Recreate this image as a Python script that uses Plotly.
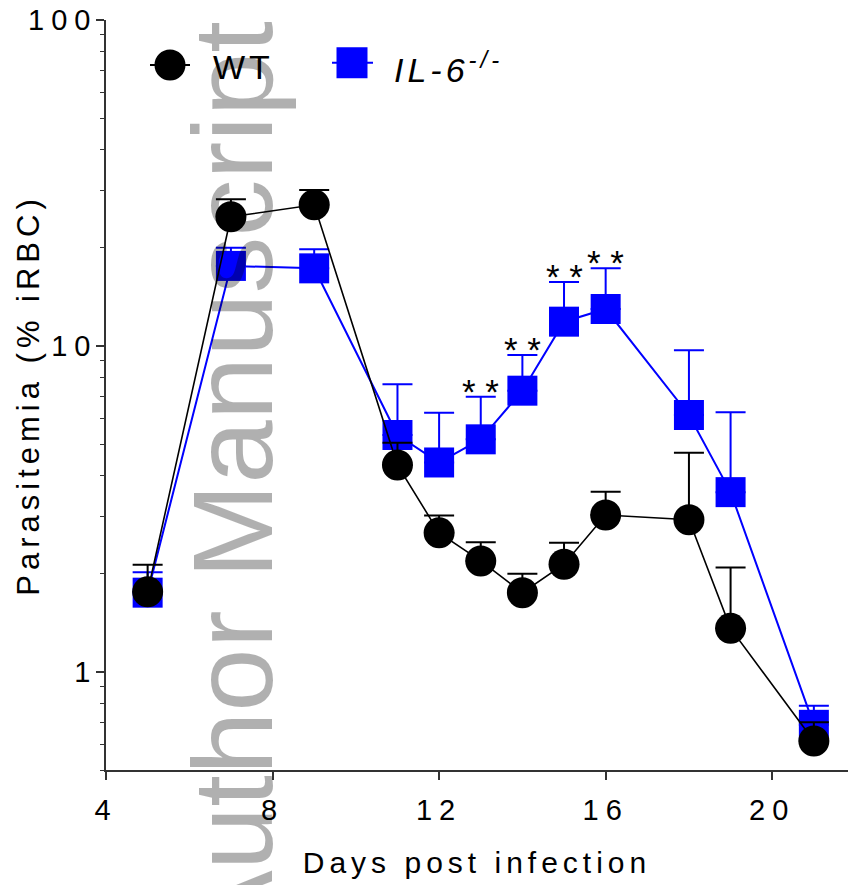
import plotly.graph_objects as go
import numpy as np

# ---------------- data ----------------
days = [5, 7, 9, 11, 12, 13, 14, 15, 16, 18, 19, 21]
wt_mean = [1.76, 24.9, 27.1, 4.31, 2.67, 2.19, 1.75, 2.14, 3.03, 2.93, 1.36, 0.614]
wt_upper = [2.13, 28.2, 30.1, 5.05, 3.02, 2.50, 2.00, 2.49, 3.57, 4.70, 2.09, 0.700]
il6_mean = [1.75, 17.6, 17.3, 5.33, 4.39, 5.17, 7.29, 11.87, 12.98, 6.14, 3.56, 0.688]
il6_upper = [2.02, 20.0, 19.8, 7.63, 6.24, 6.99, 9.38, 15.7, 17.3, 9.70, 6.26, 0.787]
sig_days = [13, 14, 15, 16]
sig_label = "* *"
x_ticks = [4, 8, 12, 16, 20]
y_ticks = [1, 10, 100]
y_minor = [0.5, 0.6, 0.7, 0.8, 0.9, 2, 3, 4, 5, 6, 7, 8, 9,
           20, 30, 40, 50, 60, 70, 80, 90]
series_names = ["WT", "IL-6"]

FONT = "Liberation Sans, Arial, sans-serif"
BLUE = "#0000ff"

fig = go.Figure()

fig.add_trace(go.Scatter(
    x=days, y=il6_mean, mode="lines+markers", name=series_names[1],
    line=dict(color=BLUE, width=2),
    marker=dict(symbol="square", size=30, color=BLUE),
    error_y=dict(type="data", symmetric=False,
                 array=[u - m for u, m in zip(il6_upper, il6_mean)],
                 arrayminus=[0] * len(days),
                 color=BLUE, thickness=2, width=15),
    showlegend=False,
))
fig.add_trace(go.Scatter(
    x=days, y=wt_mean, mode="lines+markers", name=series_names[0],
    line=dict(color="black", width=1.6),
    marker=dict(symbol="circle", size=31, color="black"),
    error_y=dict(type="data", symmetric=False,
                 array=[u - m for u, m in zip(wt_upper, wt_mean)],
                 arrayminus=[0] * len(days),
                 color="black", thickness=2, width=15),
    showlegend=False,
))

annotations = []
for d in sig_days:
    top = il6_upper[days.index(d)]
    annotations.append(dict(x=d, y=np.log10(top), xref="x", yref="y",
                            text=sig_label, showarrow=False,
                            yanchor="bottom", yshift=-16,
                            font=dict(family=FONT, size=35, color="black")))

# legend (drawn manually so markers match plot size)
annotations.append(dict(x=0.147, y=0.937, xref="paper", yref="paper",
                        text="WT", showarrow=False, xanchor="left", yanchor="middle",
                        font=dict(family=FONT, size=34, color="black")))
annotations.append(dict(x=0.404, y=0.937, xref="paper", yref="paper",
                        text="<i>IL-6<sup>-/-</sup></i>", showarrow=False,
                        xanchor="left", yanchor="middle",
                        font=dict(family=FONT, size=34, color="black")))

# watermark
annotations.append(dict(x=0.170, y=0.3813, xref="paper", yref="paper",
                        text="Author Manuscript", showarrow=False, textangle=-90,
                        xanchor="center", yanchor="middle",
                        font=dict(family=FONT, size=114, color="rgba(0,0,0,0.31)")))

leg_y = 0.94
shapes = [
    dict(type="line", xref="paper", yref="paper", x0=(150 - 106) / 742, x1=(190 - 106) / 742,
         y0=leg_y, y1=leg_y, line=dict(color="black", width=2), layer="above"),
    dict(type="circle", xref="paper", yref="paper", xsizemode="pixel", ysizemode="pixel",
         xanchor=(170 - 106) / 742, yanchor=leg_y, x0=-15.5, x1=15.5, y0=-15.5, y1=15.5,
         fillcolor="black", line=dict(width=0), layer="above"),
    dict(type="line", xref="paper", yref="paper", x0=(332 - 106) / 742, x1=(373 - 106) / 742,
         y0=leg_y + 0.003, y1=leg_y + 0.003, line=dict(color=BLUE, width=2), layer="above"),
    dict(type="rect", xref="paper", yref="paper", xsizemode="pixel", ysizemode="pixel",
         xanchor=(352 - 106) / 742, yanchor=leg_y + 0.003, x0=-15.5, x1=15.5, y0=-15.5, y1=15.5,
         fillcolor=BLUE, line=dict(width=0), layer="above"),
]

fig.update_layout(
    width=848, height=885,
    margin=dict(l=106, r=0, t=20, b=115),
    paper_bgcolor="white", plot_bgcolor="white",
    font=dict(family=FONT, color="black"),
    annotations=annotations, shapes=shapes,
    showlegend=False,
    xaxis=dict(range=[4, 21.82], tickvals=x_ticks, ticks="outside", ticklen=8,
               tickwidth=1.5, tickcolor="#333", showline=True, linecolor="#333",
               linewidth=1.5, showgrid=False, zeroline=False,
               tickfont=dict(family=FONT, size=29, color="black"),
               ticklabelstandoff=5,
               title=dict(text="Days post infection", standoff=27,
                          font=dict(family=FONT, size=30, color="black"))),
    yaxis=dict(type="log", range=[np.log10(0.5), 2], tickvals=y_ticks,
               ticktext=[str(v) for v in y_ticks],
               ticks="outside", ticklen=8, tickwidth=1.5, tickcolor="#333",
               minor=dict(tickvals=y_minor, ticks="outside", ticklen=4,
                          tickwidth=1.2, tickcolor="#333", showgrid=False),
               showline=True, linecolor="#333", linewidth=1.5,
               showgrid=False, zeroline=False,
               tickfont=dict(family=FONT, size=29, color="black"),
               ticklabelstandoff=-7,
               title=dict(text="Parasitemia (% iRBC)", standoff=0,
                          font=dict(family=FONT, size=31, color="black"))),
)

post = """
var gd = document.getElementById('{plot_id}');
function sp(sel, v){ gd.querySelectorAll(sel).forEach(function(t){ t.style.letterSpacing = v; }); }
sp('.xtick text', '7px'); sp('.ytick text', '7px');
sp('.g-xtitle text', '5px'); sp('.g-ytitle text', '5px');
gd.querySelectorAll('.annotation-text').forEach(function(t){
  var s = t.textContent;
  if (s.indexOf('Author') < 0 && s.indexOf('*') < 0) { t.style.letterSpacing = '4px'; }
});
"""

fig.write_html("out.html", post_script=post)
